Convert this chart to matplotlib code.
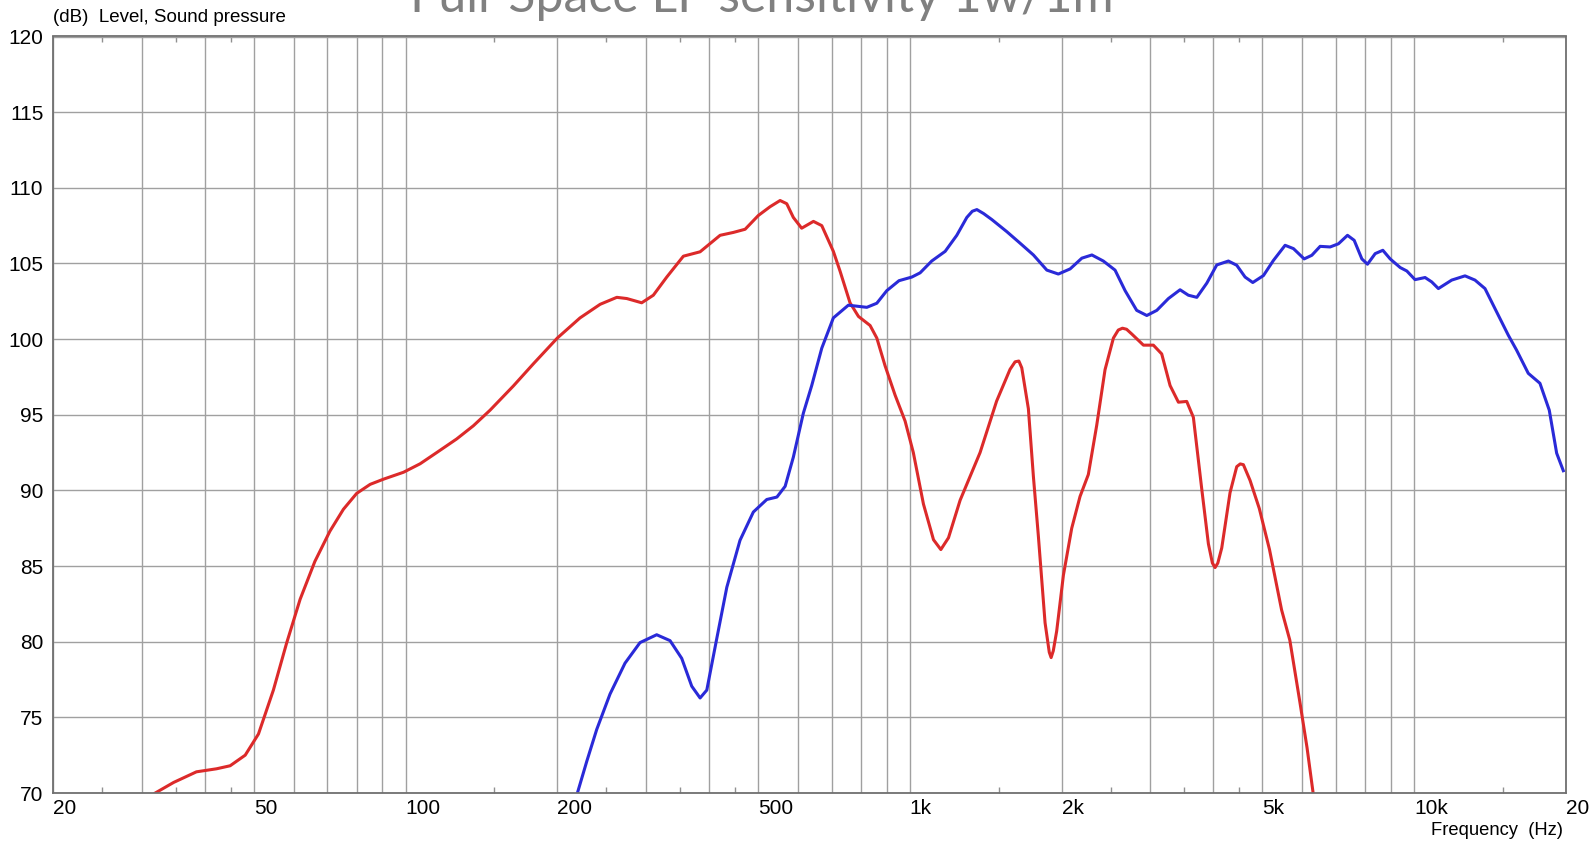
import matplotlib
matplotlib.use("Agg")
import matplotlib.pyplot as plt
import numpy as np

# LF (red) response
lf_freq = [31.9, 34.7, 38.5, 42.2, 44.9, 48.1, 51.1, 54.7, 58.1, 61.8, 66.1, 70.8, 75.3, 80.0,
           85.1, 90.4, 99.1, 106.9, 115.3, 126.3, 136.3, 147.1, 163.6, 179.3, 200, 221.8, 243.2,
           262.4, 274.7, 294, 310, 329.6, 355.6, 383.8, 420.5, 446.7, 471.4, 500.7, 528.3, 553,
           570, 587.5, 610.2, 643.9, 668.9, 705.2, 727, 761, 790.8, 834, 860, 893, 934.8, 978.6,
           1016, 1064, 1114, 1152, 1193, 1258, 1378, 1486, 1580, 1617, 1645, 1667, 1718, 1758,
           1798, 1854, 1890, 1906, 1925, 1955, 2016, 2094, 2175, 2259, 2347, 2438, 2533, 2590,
           2640, 2690, 2756, 2905, 3040, 3158, 3281, 3408, 3540, 3649, 3791, 3908, 3980, 4029,
           4080, 4154, 4314, 4448, 4520, 4585, 4727, 4931, 5165, 5459, 5668, 5935, 6131, 6304]
lf_db = [70.0, 70.7, 71.4, 71.6, 71.8, 72.5, 73.9, 76.8, 79.9, 82.8, 85.3, 87.3, 88.75, 89.8,
         90.4, 90.74, 91.2, 91.76, 92.5, 93.4, 94.27, 95.3, 96.9, 98.37, 100.07, 101.4, 102.3,
         102.76, 102.68, 102.4, 102.9, 104.1, 105.48, 105.77, 106.86, 107.05, 107.26, 108.17,
         108.75, 109.16, 108.95, 108.04, 107.33, 107.78, 107.5, 105.8, 104.5, 102.4, 101.5,
         100.9, 100.07, 98.24, 96.3, 94.58, 92.5, 89.1, 86.74, 86.09, 86.87, 89.35, 92.5, 95.9,
         98.0, 98.5, 98.55, 98.1, 95.4, 90.9, 87.0, 81.25, 79.3, 78.95, 79.4, 80.7, 84.4, 87.5,
         89.6, 91.05, 94.3, 97.98, 100.07, 100.6, 100.72, 100.65, 100.33, 99.6, 99.6, 99.02,
         96.93, 95.83, 95.88, 94.83, 90.1, 86.47, 85.2, 84.9, 85.2, 86.2, 89.85, 91.57, 91.75,
         91.7, 90.66, 88.8, 86.1, 82.1, 80.1, 76.0, 73.0, 70.0]

# HF (blue) response
hf_freq = [219.2, 228.8, 239.4, 254.4, 272.4, 291.7, 314.8, 334.6, 352.9, 369.4, 383.8, 395.7,
           414.1, 433.6, 460.5, 489.4, 520.4, 545, 565.9, 587.5, 614.9, 638.9, 668.9, 705.2,
           755.1, 821.6, 860, 900, 951.6, 1009, 1048, 1105, 1175, 1239, 1297, 1330, 1358, 1400,
           1454, 1557, 1654, 1758, 1869, 1970, 2079, 2193, 2296, 2419, 2552, 2672, 2817, 2950,
           3088, 3256, 3434, 3567, 3707, 3880, 4060, 4282, 4448, 4621, 4786, 5025, 5259, 5547,
           5763, 6051, 6267, 6509, 6813, 7077, 7375, 7604, 7875, 8080, 8369, 8667, 8962, 9381,
           9671, 10040, 10510, 10834, 11168, 11869, 12612, 13200, 13816, 14570, 15367, 15961,
           16834, 17757, 18530, 19165, 19757]
hf_db = [70.0, 72.1, 74.2, 76.54, 78.58, 79.94, 80.46, 80.07, 78.9, 77.06, 76.28, 76.8, 80.2,
         83.6, 86.7, 88.57, 89.4, 89.56, 90.27, 92.2, 95.1, 96.93, 99.4, 101.4, 102.24, 102.1,
         102.37, 103.2, 103.86, 104.1, 104.38, 105.16, 105.8, 106.86, 108.04, 108.45, 108.56,
         108.3, 107.9, 107.1, 106.34, 105.56, 104.56, 104.3, 104.64, 105.35, 105.56, 105.16,
         104.56, 103.2, 101.9, 101.56, 101.9, 102.68, 103.26, 102.9, 102.76, 103.7, 104.9,
         105.16, 104.88, 104.1, 103.74, 104.2, 105.2, 106.2, 105.98, 105.3, 105.54, 106.13,
         106.09, 106.3, 106.86, 106.53, 105.3, 104.95, 105.65, 105.87, 105.3, 104.73, 104.5,
         103.93, 104.07, 103.78, 103.34, 103.9, 104.18, 103.9, 103.34, 101.8, 100.26, 99.27,
         97.74, 97.08, 95.3, 92.46, 91.3]

grid_freqs = [20, 30, 40, 50, 60, 70, 80, 90, 100, 200, 300, 400, 500, 600, 700, 800, 900,
              1000, 2000, 3000, 4000, 5000, 6000, 7000, 8000, 9000, 10000, 20000]
tick_labels = {20: "20", 50: "50", 100: "100", 200: "200", 500: "500", 1000: "1k",
               2000: "2k", 5000: "5k", 10000: "10k", 20000: "20"}
half_ticks = [25, 35, 45, 150, 250, 350, 450, 1500, 2500, 3500, 4500, 15000]
y_ticks = list(range(70, 121, 5))

fig = plt.figure(figsize=(15.92, 8.46), dpi=100)
ax = fig.add_axes([53 / 1592, 1 - 793 / 846, (1566 - 53) / 1592, (793 - 36.5) / 846])

ax.plot(lf_freq, lf_db, color="#dc2a2a", lw=2.2, solid_joinstyle="round")
ax.plot(hf_freq, hf_db, color="#2a2ad8", lw=2.2, solid_joinstyle="round")

ax.set_xscale("log")
ax.set_xlim(20, 20000)
ax.set_ylim(70, 120)

ax.set_xticks(grid_freqs)
ax.set_xticklabels([tick_labels.get(f, "") for f in grid_freqs], ha="left")
ax.set_xticks(half_ticks, minor=True)
ax.xaxis.set_minor_formatter(plt.NullFormatter())
ax.tick_params(axis="x", which="major", length=0, pad=4, labelsize=15)
ax.tick_params(axis="x", which="minor", direction="in", length=4, top=True,
               color="#909090", width=1)
ax.set_yticks(y_ticks)
ax.tick_params(axis="y", length=0, pad=7, labelsize=15)

ax.grid(True, which="major", color="#a0a0a0", lw=1)
for s in ax.spines.values():
    s.set_color("#707070")
    s.set_linewidth(1.3)

for lab in ax.get_xticklabels() + ax.get_yticklabels():
    lab.set_fontfamily("Liberation Sans")

fig.text(53 / 1592, 1 - 17 / 846, "(dB)  Level, Sound pressure", fontsize=13.5,
         family="Liberation Sans", va="center", ha="left")
fig.text(1563 / 1592, 1 - 830 / 846, "Frequency  (Hz)", fontsize=13.2,
         family="Liberation Sans", va="center", ha="right")
fig.text(410 / 1592, 1 - 12 / 846, "Full-Space LF sensitivity 1w/1m", fontsize=36,
         family="Lato", color="#808080", va="baseline", ha="left")

fig.savefig("out.png", dpi=100)
